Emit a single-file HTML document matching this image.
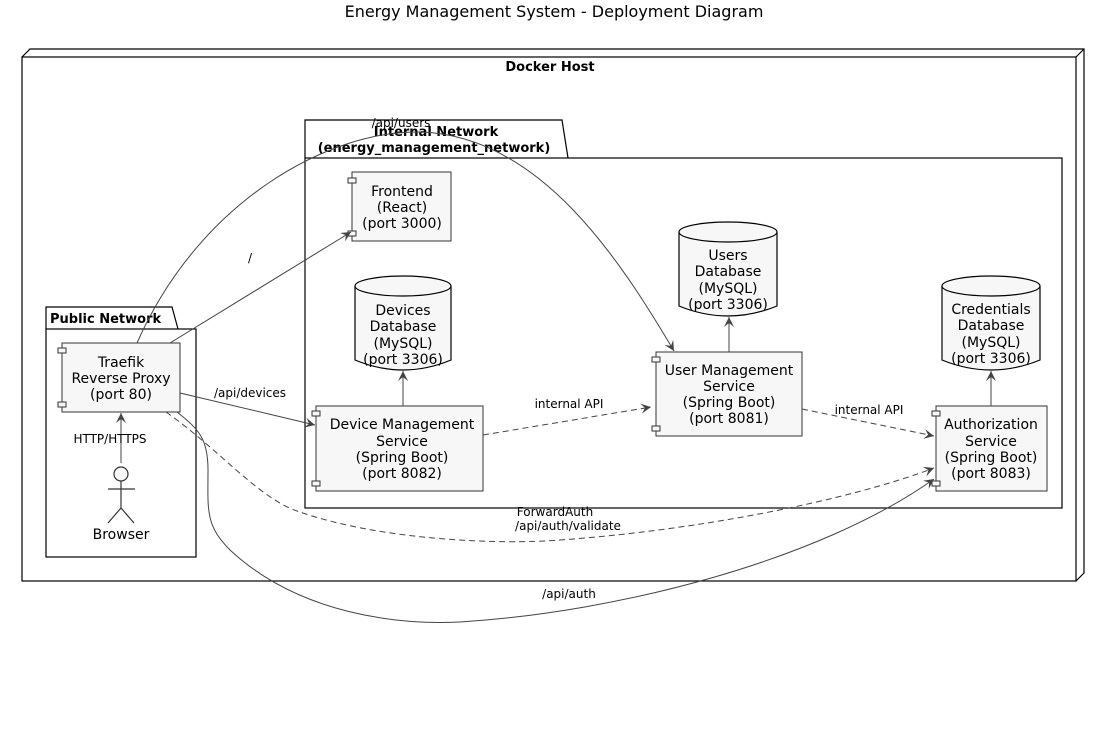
<!DOCTYPE html>
<html><head><meta charset="utf-8"><style>
html,body{margin:0;padding:0;background:#fff;}
svg{display:block;font-family:"DejaVu Sans","Liberation Sans",sans-serif;}
</style></head><body>
<svg width="1108" height="734" viewBox="0 0 1108 734" xmlns="http://www.w3.org/2000/svg">
<defs>
<marker id="a" markerWidth="12" markerHeight="12" refX="10" refY="5" orient="auto" markerUnits="userSpaceOnUse">
<path d="M0,0 L10,5 L0,10 L4,5 Z" fill="#444"/>
</marker>
</defs>
<rect width="1108" height="734" fill="#fff"/>
<text x="554" y="17" text-anchor="middle" font-size="16">Energy Management System - Deployment Diagram</text>

<path d="M22,57 L30,49 L1084,49 L1084,573 L1076,581 M1076,57 L1084,49" fill="none" stroke="#000" stroke-width="1.2"/>
<rect x="22" y="57" width="1054" height="524" fill="none" stroke="#000" stroke-width="1.2"/>
<text x="550" y="71" text-anchor="middle" font-size="13" font-weight="bold">Docker Host</text>

<path d="M46,329 L46,307 L172,307 L178,329" fill="none" stroke="#000" stroke-width="1.2"/>
<rect x="46" y="329" width="150" height="228" fill="none" stroke="#000" stroke-width="1.2"/>
<text x="50" y="323" font-size="13" font-weight="bold">Public Network</text>

<path d="M305,158 L305,120 L562,120 L568,158" fill="none" stroke="#000" stroke-width="1.2"/>
<rect x="305" y="158" width="757" height="350" fill="none" stroke="#000" stroke-width="1.2"/>
<text x="436" y="136" text-anchor="middle" font-size="13" font-weight="bold">Internal Network</text>
<text x="434" y="152" text-anchor="middle" font-size="13" font-weight="bold">(energy_management_network)</text>

<g font-size="14" text-anchor="middle" fill="#000">
<rect x="62" y="343" width="118" height="69" fill="#f7f7f7" stroke="#333"/>
<rect x="58" y="348" width="8" height="5" fill="#f7f7f7" stroke="#333"/>
<rect x="58" y="402" width="8" height="5" fill="#f7f7f7" stroke="#333"/>
<text x="121" y="367">Traefik</text><text x="121" y="383">Reverse Proxy</text><text x="121" y="399">(port 80)</text>

<circle cx="121" cy="474" r="7" fill="#f7f7f7" stroke="#333" stroke-width="1.2"/>
<path d="M121,481 L121,508 M108,489 L135,489 M108,523 L121,508 L134,523" fill="none" stroke="#333" stroke-width="1.2"/>
<text x="121" y="539">Browser</text>

<rect x="352" y="172" width="99" height="69" fill="#f7f7f7" stroke="#333"/>
<rect x="348" y="178" width="8" height="5" fill="#f7f7f7" stroke="#333"/>
<rect x="348" y="231" width="8" height="5" fill="#f7f7f7" stroke="#333"/>
<text x="402" y="196">Frontend</text><text x="402" y="212">(React)</text><text x="402" y="228">(port 3000)</text>

<path d="M355,286 L355,360 Q403,380 451,360 L451,286" fill="#f7f7f7" stroke="#000" stroke-width="1.2"/>
<ellipse cx="403" cy="286" rx="48" ry="10" fill="#f7f7f7" stroke="#000" stroke-width="1.2"/>
<text x="403" y="315">Devices</text><text x="403" y="331">Database</text><text x="403" y="348">(MySQL)</text><text x="403" y="364">(port 3306)</text>

<rect x="316" y="406" width="167" height="85" fill="#f7f7f7" stroke="#333"/>
<rect x="312" y="411" width="8" height="5" fill="#f7f7f7" stroke="#333"/>
<rect x="312" y="481" width="8" height="5" fill="#f7f7f7" stroke="#333"/>
<text x="402" y="429">Device Management</text><text x="402" y="446">Service</text><text x="402" y="462">(Spring Boot)</text><text x="402" y="478">(port 8082)</text>

<path d="M679,232 L679,306 Q728,326 777,306 L777,232" fill="#f7f7f7" stroke="#000" stroke-width="1.2"/>
<ellipse cx="728" cy="232" rx="49" ry="10" fill="#f7f7f7" stroke="#000" stroke-width="1.2"/>
<text x="728" y="260">Users</text><text x="728" y="276">Database</text><text x="728" y="293">(MySQL)</text><text x="728" y="309">(port 3306)</text>

<rect x="656" y="352" width="146" height="84" fill="#f7f7f7" stroke="#333"/>
<rect x="652" y="357" width="8" height="5" fill="#f7f7f7" stroke="#333"/>
<rect x="652" y="426" width="8" height="5" fill="#f7f7f7" stroke="#333"/>
<text x="729" y="375">User Management</text><text x="729" y="391">Service</text><text x="729" y="407">(Spring Boot)</text><text x="729" y="423">(port 8081)</text>

<path d="M942,286 L942,360 Q991,380 1040,360 L1040,286" fill="#f7f7f7" stroke="#000" stroke-width="1.2"/>
<ellipse cx="991" cy="286" rx="49" ry="10" fill="#f7f7f7" stroke="#000" stroke-width="1.2"/>
<text x="991" y="314">Credentials</text><text x="991" y="330">Database</text><text x="991" y="347">(MySQL)</text><text x="991" y="363">(port 3306)</text>

<rect x="936" y="406" width="111" height="85" fill="#f7f7f7" stroke="#333"/>
<rect x="932" y="411" width="8" height="5" fill="#f7f7f7" stroke="#333"/>
<rect x="932" y="481" width="8" height="5" fill="#f7f7f7" stroke="#333"/>
<text x="991" y="429">Authorization</text><text x="991" y="446">Service</text><text x="991" y="462">(Spring Boot)</text><text x="991" y="478">(port 8083)</text>
</g>

<g fill="none" stroke="#444" stroke-width="1">
<path d="M121,463 L121,413" marker-end="url(#a)"/>
<path d="M170,343 L351,232" marker-end="url(#a)"/>
<path d="M180,393 L315,425" marker-end="url(#a)"/>
<path d="M137,343 C200,200 330,130 420,132 C540,135 620,260 674,351" marker-end="url(#a)"/>
<path d="M403,406 L403,371" marker-end="url(#a)"/>
<path d="M729,352 L729,317" marker-end="url(#a)"/>
<path d="M991,406 L991,371" marker-end="url(#a)"/>
<path d="M483,435 L651,407" stroke-dasharray="6,4" marker-end="url(#a)"/>
<path d="M802,409 L934,436" stroke-dasharray="6,4" marker-end="url(#a)"/>
<path d="M166,412 C220,450 260,500 300,512 C380,540 500,545 560,540 C700,530 850,500 934,468" stroke-dasharray="6,4" marker-end="url(#a)"/>
<path d="M177,412 C200,430 208,440 208,470 C208,510 205,525 230,550 C300,615 400,625 460,622 C620,612 820,560 934,479" marker-end="url(#a)"/>
</g>
<g font-size="12" text-anchor="middle" fill="#000">
<text x="110" y="443">HTTP/HTTPS</text>
<text x="250" y="262">/</text>
<text x="250" y="397">/api/devices</text>
<text x="401" y="127">/api/users</text>
<text x="569" y="408">internal API</text>
<text x="869" y="414">internal API</text>
<text x="555" y="516">ForwardAuth</text>
<text x="568" y="530">/api/auth/validate</text>
<text x="569" y="598">/api/auth</text>
</g>
</svg>
</body></html>
